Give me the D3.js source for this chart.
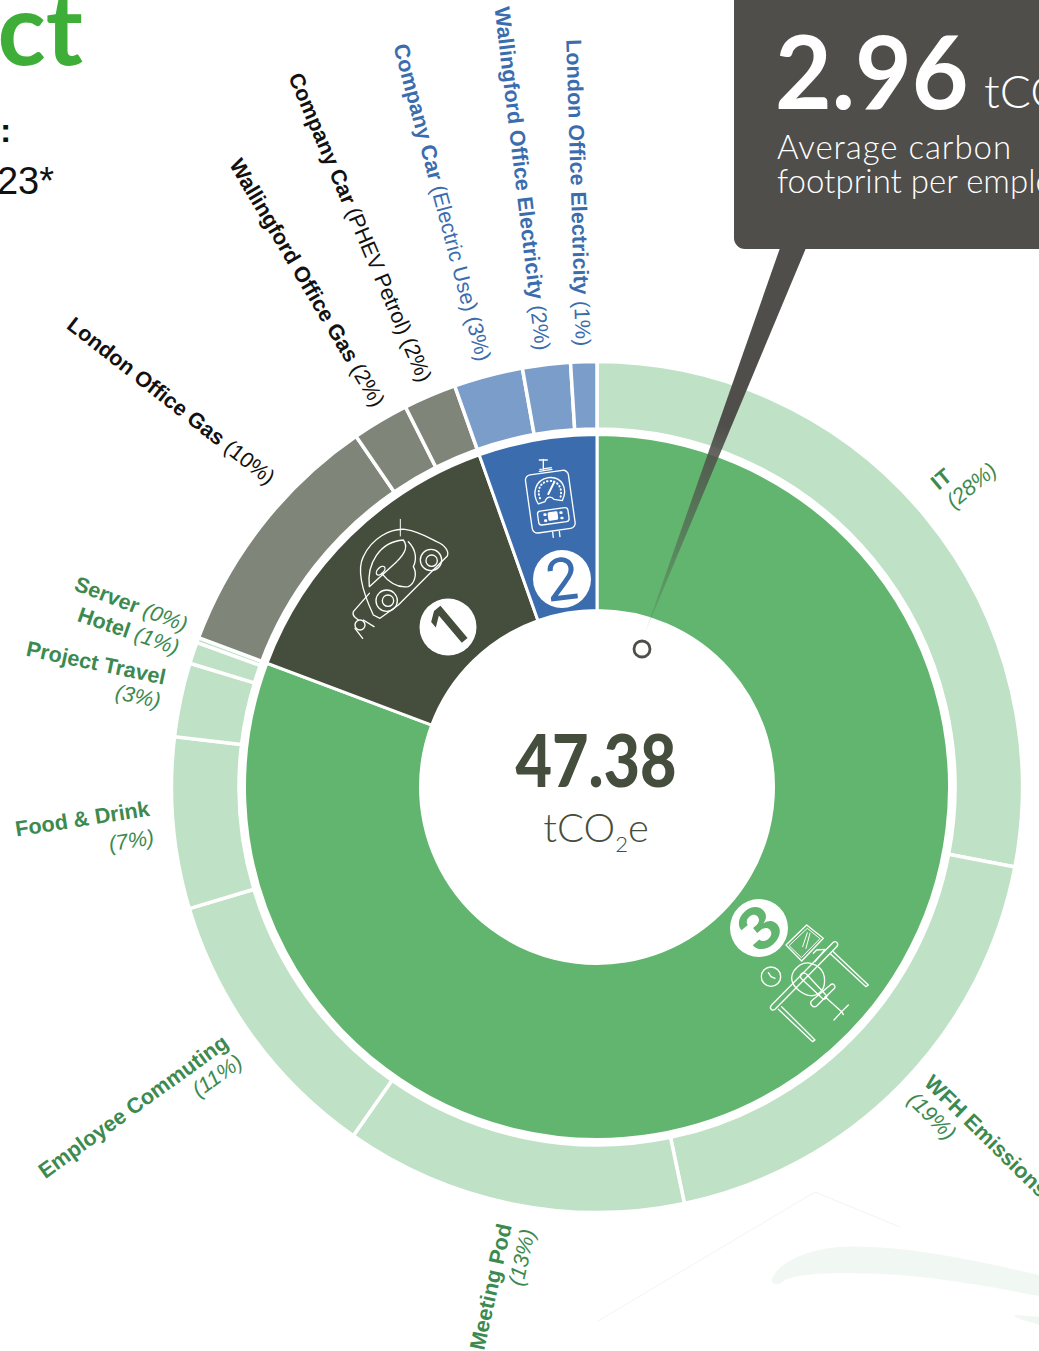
<!DOCTYPE html>
<html>
<head>
<meta charset="utf-8">
<script src="https://cdn.jsdelivr.net/npm/d3@7"></script>
<style>
html, body { margin: 0; background: #fff; overflow: hidden; }
text { font-family: "Liberation Sans", Arial, sans-serif; }
.geo { font-family: Lato, "Noto Sans", sans-serif; }
.icon { fill: none; stroke: #fff; stroke-linecap: round; stroke-linejoin: round; }
</style>
</head>
<body>
<div id="chart"></div>
<script>
// clockwise from 12 o'clock, tCO2e
var sourceNames = ["IT", "WFH Emissions", "Meeting Pod", "Employee Commuting", "Food & Drink", "Project Travel", "Hotel", "Server",
    "London Office Gas", "Wallingford Office Gas", "Company Car", "Company Car", "Wallingford Office Electricity", "London Office Electricity"]
var sourceNotes = ["(28%)", "(19%)", "(13%)", "(11%)", "(7%)", "(3%)", "(1%)", "(0%)",
    "(10%)", "(2%)", "(PHEV Petrol) (2%)", "(Electric Use) (3%)", "(2%)", "(1%)"]
var sourceValues = [13.27, 8.86, 6.16, 5.06, 3.08, 1.33, 0.39, 0.09, 4.60, 1.02, 0.95, 1.24, 0.86, 0.47]
var sourceScopes = [3, 3, 3, 3, 3, 3, 3, 3, 1, 1, 1, 2, 2, 2]

var scopeNames = [3, 1, 2]
var scopeValues = [38.24, 6.57, 2.57]

var totalLabel = "47.38"
var perEmployee = "2.96"

var width = 1039, height = 1351
var cx = 597, cy = 787

var innerColor = {3: "#62b56e", 1: "#454e3c", 2: "#3b6dae"}
var outerColor = {3: "#bfe1c5", 1: "#7f8579", 2: "#7a9dca"}
var textColor = {3: "#3c8a50", 1: "#111111", 2: "#3b6dae"}

// fine tuning of the labels, by position in sourceNames
var twoLine = [0, 1, 2, 3, 4, 5]
var labelRadius = [452, 441, 447, 449, 447, 445, 441, 441, 447, 440, 441, 441, 440, 441]
var labelShift = [-0.7, -1.5, -1.2, 0, 0.6, 0.8, 0, 1.3, 5.4, 1, 0.3, 0, -0.2, 0]
var labelTurn = [0, 0, 1, 0, -4, 0, 0.5, 0.8, 0, 0, 0, 0, 0, 0]
var noteDrop = [19, 19, 19, 19, 24, 19]

var svg = d3.select("#chart")
    .append("svg")
        .attr("width", width)
        .attr("height", height)
        .style("display", "block")

// faint page artwork behind the chart
svg.append("path")
    .attr("d", "M598 1321 L815 1192 L900 1227")
    .attr("fill", "none")
    .attr("stroke", "#f3f3f3")
    .attr("stroke-width", 1)
var swoosh = svg.append("g").attr("transform", "translate(590,1180) scale(0.3333)").attr("fill", "#f1f8f3")
swoosh.append("path").attr("d", "M545 300 C560 250 650 205 760 200 C950 195 1150 240 1347 285 V348 C1150 310 950 275 760 280 C680 280 620 285 585 300 C565 320 545 315 545 300 Z")
swoosh.append("path").attr("d", "M1275 405 L1347 410 V435 C1320 425 1290 420 1275 410 Z")

var pie = d3.pie().sort(null).value(function(d) { return d; })
var outerArc = d3.arc().innerRadius(358).outerRadius(425.5)
var innerArc = d3.arc().innerRadius(176.5).outerRadius(352.5)

var ring = svg.append("g").attr("transform", "translate(" + cx + "," + cy + ")")

var sourceArcs = pie(sourceValues)
ring.selectAll("path.source")
    .data(sourceArcs)
    .enter()
    .append("path")
        .attr("class", "source")
        .attr("d", outerArc)
        .attr("fill", function(d, i) { return outerColor[sourceScopes[i]]; })
        .attr("stroke", "#fff")
        .attr("stroke-width", 3.5)

var scopeArcs = pie(scopeValues)
ring.selectAll("path.scope")
    .data(scopeArcs)
    .enter()
    .append("path")
        .attr("class", "scope")
        .attr("d", innerArc)
        .attr("fill", function(d, i) { return innerColor[scopeNames[i]]; })
        .attr("stroke", "#fff")
        .attr("stroke-width", 3)

// radial labels round the ring
sourceArcs.forEach(function(d, i) {
    var mid = (d.startAngle + d.endAngle) / 2 * 180 / Math.PI
    var left = mid > 180
    var g = svg.append("g")
        .attr("transform", "translate(" + cx + "," + cy + ") rotate(" + (mid + labelShift[i] - 90) + ") translate(" + labelRadius[i] + ",0) rotate(" + ((left ? 180 : 0) + labelTurn[i] - labelShift[i]) + ")")
    var t = g.append("text")
        .attr("text-anchor", left ? "end" : "start")
        .attr("font-size", 21.6)
        .attr("fill", textColor[sourceScopes[i]])
    var split = twoLine.indexOf(i) >= 0
    t.append("tspan")
        .attr("font-weight", "bold")
        .attr("x", 0)
        .attr("y", split ? -5 : 7.5)
        .text(sourceNames[i] + (split ? "" : " "))
    var note = t.append("tspan")
        .attr("font-style", sourceScopes[i] == 3 ? "italic" : "normal")
        .text(sourceNotes[i])
    if (split) note.attr("x", 0).attr("y", noteDrop[i])
})

// headline scraps cut by the page edge
svg.append("text").attr("class", "geo")
    .attr("x", 83).attr("y", 65).attr("text-anchor", "end")
    .attr("font-size", 100).attr("font-weight", 700).attr("fill", "#3eae38")
    .text("ct")
svg.append("text")
    .attr("x", 0).attr("y", 142)
    .attr("font-size", 34).attr("font-weight", "bold").attr("fill", "#111")
    .text(":")
svg.append("text")
    .attr("x", 54).attr("y", 194).attr("text-anchor", "end")
    .attr("font-size", 38).attr("fill", "#111")
    .text("23*")

// total in the middle
svg.append("text").attr("class", "geo")
    .attr("transform", "translate(596,787) scale(0.875,1)")
    .attr("text-anchor", "middle")
    .attr("font-size", 72).attr("font-weight", 900).attr("fill", "#454e3c")
    .text(totalLabel)
var unit = svg.append("text").attr("class", "geo")
    .attr("x", 596).attr("y", 842).attr("text-anchor", "middle")
    .attr("font-size", 40).attr("font-weight", 300).attr("fill", "#454e3c")
unit.append("tspan").text("tCO")
unit.append("tspan").attr("font-size", 22).attr("dy", 10).text("2")
unit.append("tspan").attr("dy", -10).text("e")

// callout
var defs = svg.append("defs")
var fade = defs.append("linearGradient")
    .attr("id", "pointerFade")
    .attr("gradientUnits", "userSpaceOnUse")
    .attr("x1", 780).attr("y1", 249).attr("x2", 645).attr("y2", 633)
fade.append("stop").attr("offset", 0.45).attr("stop-color", "#4f4e4a")
fade.append("stop").attr("offset", 1).attr("stop-color", "#4f4e4a").attr("stop-opacity", 0.1)
svg.append("path")
    .attr("d", "M780 248 L806 248 L645 633 Z")
    .attr("fill", "url(#pointerFade)")
svg.append("rect")
    .attr("x", 734).attr("y", -12)
    .attr("width", 340).attr("height", 261)
    .attr("rx", 11)
    .attr("fill", "#4f4e4a")
svg.append("circle")
    .attr("cx", 642).attr("cy", 649).attr("r", 8)
    .attr("fill", "#fff").attr("stroke", "#4f4e4a").attr("stroke-width", 2.8)
svg.append("text").attr("class", "geo")
    .attr("transform", "translate(775,109) scale(0.96,1)")
    .attr("font-size", 102).attr("font-weight", 700).attr("fill", "#fff")
    .text(perEmployee)
svg.append("text").attr("class", "geo")
    .attr("x", 984).attr("y", 108)
    .attr("font-size", 46).attr("font-weight", 300).attr("fill", "#fff")
    .text("tCO")
svg.append("text").attr("class", "geo")
    .attr("x", 777).attr("y", 159)
    .attr("font-size", 33).attr("font-weight", 300).attr("letter-spacing", 0.95).attr("fill", "#fff")
    .text("Average carbon")
svg.append("text").attr("class", "geo")
    .attr("x", 777).attr("y", 193)
    .attr("font-size", 33).attr("font-weight", 300).attr("fill", "#fff")
    .text("footprint per employee")

// numbered badges
var badgeX = [448, 562, 759]
var badgeY = [627, 579, 928]
var badgeR = [28.5, 29, 29]
var badgeTurn = [-40, -7, -40]
var badgeWeight = [600, 400, 700]
var badgeFill = [innerColor[1], innerColor[2], innerColor[3]]
badgeX.forEach(function(x, i) {
    svg.append("circle")
        .attr("cx", x).attr("cy", badgeY[i]).attr("r", badgeR[i])
        .attr("fill", "#fff")
    svg.append("text")
        .attr("transform", "translate(" + x + "," + badgeY[i] + ") rotate(" + badgeTurn[i] + ")")
        .attr("y", 21)
        .attr("text-anchor", "middle")
        .attr("font-size", 58)
        .attr("font-weight", badgeWeight[i])
        .attr("fill", badgeFill[i])
        .style("font-family", "Inter, sans-serif")
        .text(i + 1)
})

// line icons, drawn at 3x and scaled down
var car = svg.append("g").attr("class", "icon").attr("transform", "translate(330,430) scale(0.3333)").attr("stroke-width", 4)
car.append("path").attr("d", "M130 555 C95 480 80 420 100 380 C125 325 180 295 225 298 C270 305 300 325 320 335 C345 345 358 365 352 378 L300 430 L205 525 L150 565 Z")
car.append("path").attr("d", "M118 470 C110 400 150 335 220 330 C235 350 225 370 200 395 Z")
car.append("path").attr("d", "M235 335 C260 360 260 390 250 410 C262 430 255 460 235 470 C200 475 175 455 155 430")
car.append("ellipse").attr("cx", 152).attr("cy", 422).attr("rx", 16).attr("ry", 9).attr("transform", "rotate(-45 152 422)")
car.append("circle").attr("cx", 170).attr("cy", 512).attr("r", 32)
car.append("circle").attr("cx", 174).attr("cy", 512).attr("r", 17)
car.append("circle").attr("cx", 303).attr("cy", 390).attr("r", 32)
car.append("circle").attr("cx", 305).attr("cy", 392).attr("r", 17)
car.append("path").attr("d", "M211 268 V318").attr("stroke-width", 3)
car.append("path").attr("d", "M118 490 L70 545 C65 560 80 565 85 570 M100 570 L132 590 M75 595 L98 625")
car.append("circle").attr("cx", 90).attr("cy", 585).attr("r", 15)

var boiler = svg.append("g").attr("class", "icon").attr("transform", "translate(330,430) scale(0.3333)").attr("stroke-width", 4)
boiler.append("rect").attr("x", 596).attr("y", 127).attr("width", 130).attr("height", 176).attr("rx", 16).attr("transform", "rotate(-8 661 215)")
boiler.append("path").attr("d", "M625 222 C605 190 615 150 655 143 C695 138 715 175 697 212 L672 208 C665 198 650 198 645 215 Z")
boiler.append("path").attr("d", "M630 205 C620 180 630 158 655 153 C682 150 698 172 692 200").attr("stroke-width", 6).attr("stroke-dasharray", "1.5 9")
boiler.append("path").attr("d", "M655 192 L672 158").attr("stroke-width", 6)
boiler.append("rect").attr("x", 624).attr("y", 238).attr("width", 92).attr("height", 42).attr("rx", 9).attr("transform", "rotate(-8 670 259)")
boiler.append("rect").attr("x", 656).attr("y", 247).attr("width", 26).attr("height", 22).attr("rx", 3).attr("fill", "#fff").attr("transform", "rotate(-8 670 259)")
boiler.append("path").attr("d", "M644 254 h2 M646 272 h2 M692 248 h2 M695 264 h2").attr("stroke-width", 8)
boiler.append("path").attr("d", "M640 88 V118 M628 90 H652 M628 124 L666 118 M630 118 L664 113")
boiler.append("path").attr("d", "M668 306 L670 322 M688 304 L690 320")

var desk = svg.append("g").attr("class", "icon").attr("transform", "translate(700,880) scale(0.3333)").attr("stroke-width", 4)
desk.append("path").attr("d", "M258 195 L320 135 L370 175 L305 243 Z")
desk.append("path").attr("d", "M268 196 L322 145 L360 176 L305 232 Z M308 200 L322 158 M318 205 L330 160").attr("stroke-width", 3)
desk.append("path").attr("d", "M215 375 L400 187 C408 180 418 192 410 200 L225 388 C216 396 206 384 215 375 Z")
desk.append("path").attr("d", "M245 380 L345 480 L338 485 L235 388")
desk.append("path").attr("d", "M400 215 L505 315 L498 320 L392 222")
desk.append("path").attr("d", "M340 220 L350 210 L375 208 L345 245")
desk.append("path").attr("d", "M300 255 C325 240 350 255 360 265 C380 285 375 320 365 332 C345 355 320 350 295 330 C270 310 265 280 300 255 Z")
desk.append("path").attr("d", "M304 282 C310 276 318 280 322 285 L378 345 C384 352 374 362 366 354 L306 298 C300 292 300 287 304 282 Z")
desk.append("path").attr("d", "M335 362 L392 314 C400 308 410 320 402 326 L350 378 C340 385 326 372 335 362 Z")
desk.append("path").attr("d", "M375 350 L425 395 L445 375 M425 395 L402 420 M425 395 L430 404")
desk.append("circle").attr("cx", 213).attr("cy", 290).attr("r", 29)
desk.append("path").attr("d", "M213 290 L205 278 M213 290 L225 295")
</script>
</body>
</html>
